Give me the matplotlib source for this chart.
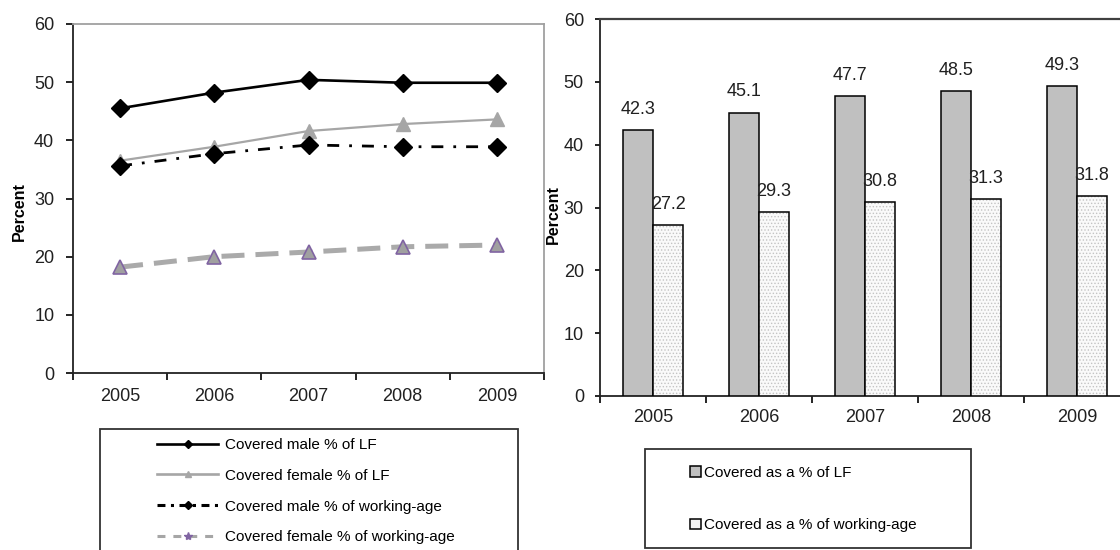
import numpy as np
import matplotlib.pyplot as plt
from matplotlib.lines import Line2D
from matplotlib.patches import Patch, Rectangle
from matplotlib.ticker import FixedLocator, NullFormatter

plt.rcParams['font.family'] = ['Liberation Sans', 'DejaVu Sans']
plt.rcParams['hatch.linewidth'] = 0.6

years = ['2005', '2006', '2007', '2008', '2009']

# coverage by sex (left panel)
male_lf = [45.5, 48.2, 50.4, 49.9, 49.9]
female_lf = [36.5, 38.9, 41.6, 42.8, 43.6]
male_wa = [35.6, 37.7, 39.2, 38.9, 38.9]
female_wa = [18.2, 20.0, 20.8, 21.7, 22.0]

# total coverage (right panel)
covered_lf = [42.3, 45.1, 47.7, 48.5, 49.3]
covered_wa = [27.2, 29.3, 30.8, 31.3, 31.8]

W, H = 1120, 550
fig = plt.figure(figsize=(W / 100, H / 100), dpi=100)

def px_axes(x0, y0, x1, y1):
    # axes from pixel box (top-left origin)
    return fig.add_axes([x0 / W, 1 - y1 / H, (x1 - x0) / W, (y1 - y0) / H])

def category_axis(ax, pad):
    x = np.arange(len(years))
    ax.set_xlim(-0.5, len(years) - 0.5)
    ax.xaxis.set_major_locator(FixedLocator(np.arange(-0.5, len(years), 1.0)))
    ax.xaxis.set_major_formatter(NullFormatter())
    ax.xaxis.set_minor_locator(FixedLocator(x))
    ax.set_xticklabels(years, minor=True)
    ax.tick_params(axis='x', which='major', length=5, width=1.2, direction='out')
    ax.tick_params(axis='x', which='minor', length=0, pad=pad, labelsize=13,
                   labelcolor='#202020')
    ax.set_ylim(0, 60)
    ax.set_yticks(range(0, 61, 10))
    ax.tick_params(axis='y', labelsize=13, labelcolor='#202020', width=1.2)
    for s in ('left', 'bottom'):
        ax.spines[s].set_color('#222222')
        ax.spines[s].set_linewidth(1.3)

# ---- left panel: lines ----
ax1 = px_axes(73, 24, 544, 373)
category_axis(ax1, pad=11)
ax1.tick_params(axis='y', length=5, pad=8.5)
for s in ('top', 'right'):
    ax1.spines[s].set_color('#a0a0a0')
    ax1.spines[s].set_linewidth(1.3)

x = np.arange(len(years))
ax1.plot(x, male_lf, color='black', lw=1.9, marker='D', ms=9.5, zorder=4)
ax1.plot(x, female_lf, color='#a6a6a6', lw=1.6, marker='^', ms=10, zorder=3)
ax1.plot(x, male_wa, color='black', lw=2, dashes=(4.3, 3.6, 1, 3.6),
         marker='D', ms=9.5, zorder=4)
ax1.plot(x, female_wa, color='#aaaaaa', lw=3.6, dashes=(4.6, 2.2),
         marker='^', ms=10, mfc='#a0a0a0', mec='#8064a2', mew=1.2, zorder=3)

ax1.set_ylabel('Percent', fontsize=11.5, fontweight='bold')
ax1.yaxis.set_label_coords(-0.098, 0.464)

line_handles = [
    Line2D([], [], color='black', lw=1.9, marker='D', ms=4),
    Line2D([], [], color='#a6a6a6', lw=1.9, marker='^', ms=5),
    Line2D([], [], color='black', lw=2.2, dashes=(2.6, 1.8, 1, 1.8), marker='D', ms=4),
    Line2D([], [], color='#a6a6a6', lw=2.2, dashes=(2.6, 2.6), marker='*', ms=6,
           mfc='#8064a2', mec='#8064a2'),
]
line_labels = ['Covered male % of LF', 'Covered female % of LF',
               'Covered male % of working-age', 'Covered female % of working-age']
fig.legend(line_handles, line_labels, loc='upper left',
           bbox_to_anchor=(157 / W, 1 - 438 / H), bbox_transform=fig.transFigure,
           frameon=False, borderpad=0, borderaxespad=0, fontsize=11,
           handlelength=4, handletextpad=0.45, labelspacing=1.1)
fig.add_artist(Rectangle((100 / W, -0.05), 418 / W, 1 - 429 / H + 0.05,
                         transform=fig.transFigure, fill=False,
                         edgecolor='#333333', lw=1.3))

# ---- right panel: bars ----
ax2 = px_axes(600, 19, 1130, 396)
category_axis(ax2, pad=9.5)
ax2.tick_params(axis='y', length=3.6, pad=8)
ax2.spines['top'].set_color('#404040')
ax2.spines['top'].set_linewidth(1.6)
ax2.spines['right'].set_visible(False)

bw = 30 / 106
ax2.bar(x - bw / 2, covered_lf, bw, color='#c0c0c0', edgecolor='black', lw=1.1, zorder=3)
ax2.bar(x + bw / 2, covered_wa, bw, color='#fafafa', edgecolor='#c4c4c4',
        hatch='.....', lw=0, zorder=3)
ax2.bar(x + bw / 2, covered_wa, bw, fill=False, edgecolor='black', lw=1.1, zorder=4)

for xi, v in zip(x, covered_lf):
    ax2.annotate(f'{v:.1f}', (xi - bw / 2, v), xytext=(0, 15), textcoords='offset points',
                 ha='center', va='center', fontsize=13, color='#202020', zorder=5)
for xi, v in zip(x, covered_wa):
    ax2.annotate(f'{v:.1f}', (xi + bw / 2, v), xytext=(0, 15), textcoords='offset points',
                 ha='center', va='center', fontsize=13, color='#202020', zorder=5)

ax2.set_ylabel('Percent', fontsize=11.5, fontweight='bold')
ax2.yaxis.set_label_coords(-0.074, 0.48)

bar_handles = [Patch(facecolor='#c0c0c0', edgecolor='black', lw=1.1),
               Patch(facecolor='#f2f2f2', edgecolor='black', lw=1.1)]
bar_labels = ['Covered as a % of LF', 'Covered as a % of working-age']
fig.legend(bar_handles, bar_labels, loc='upper left',
           bbox_to_anchor=(690 / W, 1 - 466 / H), bbox_transform=fig.transFigure,
           frameon=False, borderpad=0, borderaxespad=0, fontsize=11,
           handlelength=0.7, handleheight=0.7, handletextpad=0.2, labelspacing=2.5)
fig.add_artist(Rectangle((645 / W, 1 - 548 / H), 326 / W, 99 / H,
                         transform=fig.transFigure, fill=False,
                         edgecolor='#333333', lw=1.3))

fig.savefig('out.png', dpi=100)
